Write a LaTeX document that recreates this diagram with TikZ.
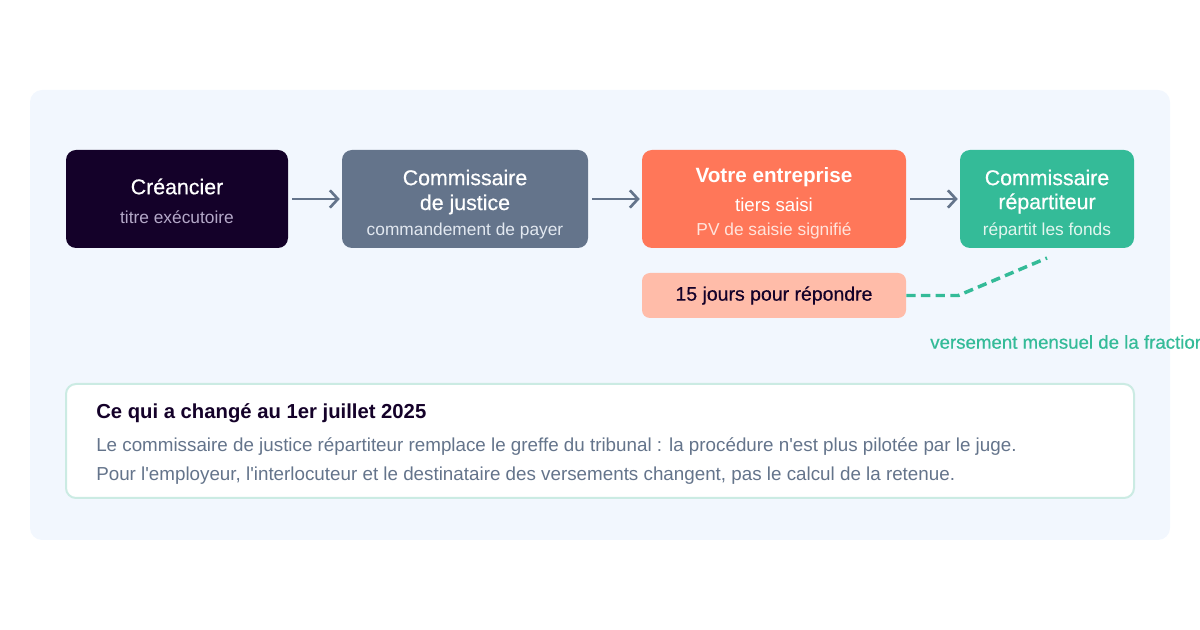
\documentclass[tikz,border=0pt]{standalone}
\usepackage{fontspec}
\setmainfont{Liberation Sans}
\newfontfamily\mediumfont{Liberation Sans}[FakeBold=0.6]
\usetikzlibrary{arrows.meta,positioning}

\definecolor{panelbg}{HTML}{F2F7FE}
\definecolor{night}{HTML}{140129}
\definecolor{lilac}{HTML}{B4A8C8}
\definecolor{slate}{HTML}{64748B}
\definecolor{slatetxt}{HTML}{E2E8F0}
\definecolor{coral}{HTML}{FF7759}
\definecolor{coraltxt}{HTML}{FFE4DC}
\definecolor{mint}{HTML}{34BB98}
\definecolor{minttxt}{HTML}{E2F6EF}
\definecolor{peach}{HTML}{FFBCA9}
\definecolor{noteline}{HTML}{CBEBE3}

\tikzset{
  stage/.style={rounded corners=7.5pt, minimum height=73.5pt, inner sep=0pt},
  head/.style={font=\mediumfont\fontsize{16}{19}\selectfont, text=white, inner sep=0pt},
  sub/.style={font=\fontsize{13}{16}\selectfont, inner sep=0pt},
  flow/.style={draw=slate, line width=2pt, -{Straight Barb[length=6pt,width=13pt,line width=2pt]},
    shorten <=3pt, shorten >=1.5pt},
  payline/.style={draw=mint, line width=2.6pt, dash pattern=on 7pt off 4pt},
  notetext/.style={font=\fontsize{14.1}{17}\selectfont, text=slate, anchor=west, inner sep=0pt}
}

\begin{document}
\begin{tikzpicture}[x=0.75pt,y=-0.75pt]
  \useasboundingbox (0,0) rectangle (1200,630);
  \fill[panelbg, rounded corners=9pt] (30,90) rectangle (1170,540);

  % the four stages
  \node[stage, fill=night, minimum width=166.5pt] (cre) at (177,199) {};
  \node[head] (cre-t) at (177,186.5) {Créancier};
  \node[sub, text=lilac] (cre-s) at (177,217) {titre exécutoire};

  \node[stage, fill=slate, minimum width=184.5pt] (cdj) at (465,199) {};
  \node[head] (cdj-t1) at (465,177.5) {Commissaire};
  \node[head] (cdj-t2) at (465,204.5) {de justice};
  \node[sub, text=slatetxt] (cdj-s) at (465,231) {commandement de payer};

  \node[stage, fill=coral, minimum width=198pt] (ent) at (774,199) {};
  \node[head, font=\fontsize{15.5}{19}\selectfont\bfseries] (ent-t) at (774,177.5) {Votre entreprise};
  \node[sub, text=white, font=\fontsize{14}{17}\selectfont] (ent-s1) at (774,205) {tiers saisi};
  \node[sub, text=coraltxt] (ent-s2) at (774,231) {PV de saisie signifié};

  \node[stage, fill=mint, minimum width=130.5pt] (rep) at (1047,199) {};
  \node[head] (rep-t1) at (1047,177.5) {Commissaire};
  \node[head] (rep-t2) at (1047,203.5) {répartiteur};
  \node[sub, text=minttxt] (rep-s) at (1047,231) {répartit les fonds};

  \draw[flow] (cre) -- (cdj);
  \draw[flow] (cdj) -- (ent);
  \draw[flow] (ent) -- (rep);

  % delay and payments
  \node[fill=peach, rounded corners=6pt, minimum width=198pt, minimum height=33.75pt,
    font=\mediumfont\fontsize{14.6}{17}\selectfont, text=night] (delai) at (774,295.5) {\raisebox{-1.5pt}{15 jours pour répondre}};
  \coordinate (payend) at (1047,258);
  \draw[payline] (delai.east) -- ++(52,0) -- (payend);
  \node[anchor=west, inner sep=0pt, text=mint, font=\mediumfont\fontsize{14}{17}\selectfont] (paylbl)
    at (930,342) {versement mensuel de la fraction};

  % what changed
  \node[draw=noteline, line width=1.5pt, fill=white, rounded corners=7.5pt,
    minimum width=801pt, minimum height=85.5pt] (note) at (600,441) {};
  \node[notetext, text=night, font=\fontsize{15.2}{18}\selectfont\bfseries] (note-t) at (96,413)
    {Ce qui a changé au 1er juillet 2025};
  \node[notetext] (note-l1) at (96,447)
    {Le commissaire de justice répartiteur remplace le greffe du tribunal : la procédure n\textquotesingle est plus pilotée par le juge.};
  \node[notetext] (note-l2) at (96,476)
    {Pour l\textquotesingle employeur, l\textquotesingle interlocuteur et le destinataire des versements changent, pas le calcul de la retenue.};
\end{tikzpicture}
\end{document}
